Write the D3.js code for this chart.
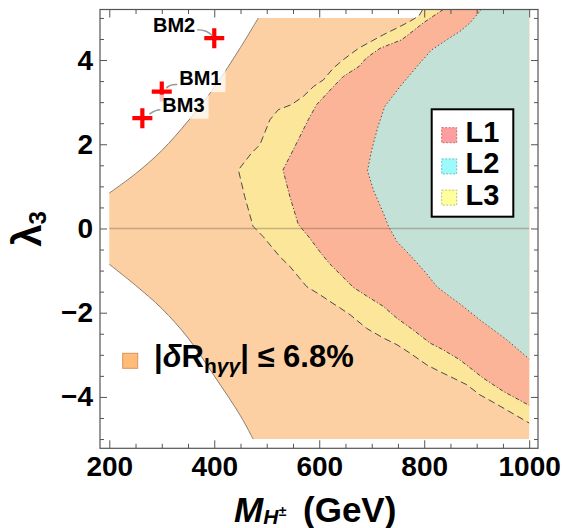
<!DOCTYPE html>
<html><head><meta charset="utf-8">
<script src="https://cdn.jsdelivr.net/npm/d3@7"></script>
<style>
body{margin:0;background:#fff}
svg{display:block}
text{font-family:"Liberation Sans",Arial,Helvetica,sans-serif;font-weight:bold;fill:#000}
</style>
</head><body>
<svg id="chart" width="564" height="528"></svg>
<script>
// ---------------- data ----------------
const xMajorTicks = [200, 400, 600, 800, 1000];
const xMinorTicks = [200,250,300,350,400,450,500,550,600,650,700,750,800,850,900,950,1000];
const yMajorTicks = [-4, -2, 0, 2, 4];
const yMinorTicks = [-5,-4.5,-4,-3.5,-3,-2.5,-2,-1.5,-1,-0.5,0,0.5,1,1.5,2,2.5,3,3.5,4,4.5,5];

// |δR_hγγ| ≤ 6.8% allowed region: left boundaries (M_H±, λ3)
const orangeUpperM = [200, 250, 300, 350, 400, 450, 484];
const orangeUpperL = [0.84, 1.30, 1.85, 2.55, 3.35, 4.30, 5.00];
const orangeLowerM = [200, 250, 300, 350, 400, 450, 474];
const orangeLowerL = [-0.85, -1.35, -1.90, -2.60, -3.50, -4.45, -5.00];
const orangeTop = 5, orangeBottom = -5, massMax = 1000, lambdaTop = 5.2;

// L3 (yellow) region boundary
const l3M = [797,790,770,748,722,700,675,646,627,608,589,570,547,522,506,487,471,446,458,474,493,525,544,576,601,620,640,659,690,722,748,773,805,830,855,881,906,935,1000];
const l3L = [5.2,5.05,4.90,4.76,4.60,4.45,4.28,4.01,3.81,3.53,3.37,3.14,2.94,2.82,2.58,1.99,1.79,1.39,0.76,0.05,-0.19,-0.67,-0.90,-1.38,-1.57,-1.73,-1.89,-2.05,-2.37,-2.60,-2.76,-2.96,-3.24,-3.40,-3.55,-3.71,-3.95,-4.15,-4.62];
// L1 (pink) region boundary
const l1M = [836,798,786,757,716,690,676,646,627,595,579,557,531,544,560,582,601,620,665,690,722,748,779,811,836,868,912,951,1000];
const l1L = [5.2,4.88,4.76,4.48,4.28,4.05,3.85,3.61,3.37,2.94,2.58,2.03,1.39,0.76,0.10,-0.23,-0.55,-0.84,-1.40,-1.60,-1.85,-2.13,-2.41,-2.72,-2.88,-3.12,-3.55,-3.87,-4.20];
// L2 (teal) region boundary
const l2M = [909,887,868,843,814,792,754,725,712,700,692,703,722,732,748,775,805,824,849,868,906,957,1000];
const l2L = [5.2,4.88,4.68,4.48,4.24,3.93,3.37,2.90,2.42,1.87,1.37,0.92,0.37,0.05,-0.31,-0.66,-1.08,-1.38,-1.62,-1.79,-2.17,-2.64,-3.10];

// benchmark points
const bmNames  = ["BM1", "BM2", "BM3"];
const bmMass   = [300, 400, 263];
const bmLambda = [3.25, 4.52, 2.62];

const legendNames = ["L1", "L2", "L3"];

// ---------------- layout / style ----------------
const svg = d3.select("#chart");
const x = d3.scaleLinear().domain([182.3, 1016.8]).range([100, 538]);
const y = d3.scaleLinear().domain([-5.22, 5.2]).range([448.3, 9.5]);

const col = {
  orange: "#fdd0a3", l3: "#fce699", l1: "#fbb497", l2: "#c3e1d6",
  sw1: "#ff9e9e", sw2: "#9cfafa", sw3: "#ffff9c", swO: "#ffbb78"
};

svg.append("clipPath").attr("id","clip").append("rect")
  .attr("x", x(182.3)).attr("y", y(5.2)).attr("width", x(1016.8)-x(182.3)).attr("height", y(-5.22)-y(5.2));
const plot = svg.append("g").attr("clip-path","url(#clip)");

const smooth = d3.line().x(d => x(d[0])).y(d => y(d[1])).curve(d3.curveCatmullRom);
const straight = d3.line().x(d => x(d[0])).y(d => y(d[1]));

const upperPts = orangeUpperM.map((m,i) => [m, orangeUpperL[i]]);
const lowerPts = orangeLowerM.map((m,i) => [m, orangeLowerL[i]]);
const orangePath = smooth(lowerPts)
  + `L${x(massMax)},${y(orangeBottom)}L${x(massMax)},${y(orangeTop)}`
  + "L" + smooth(upperPts.slice().reverse()).slice(1) + "Z";
plot.append("path").attr("d", orangePath).attr("fill", col.orange);
plot.append("path").attr("d", smooth(upperPts)).attr("fill","none").attr("stroke","#8b7d70").attr("stroke-width",1);
plot.append("path").attr("d", smooth(lowerPts)).attr("fill","none").attr("stroke","#8b7d70").attr("stroke-width",1);

const regions = [
  {M: l3M, L: l3L, fill: col.l3, dash: "7,4"},
  {M: l1M, L: l1L, fill: col.l1, dash: "4,2,1.2,2"},
  {M: l2M, L: l2L, fill: col.l2, dash: "1.3,2.4"}
];
regions.forEach(r => {
  const b = r.M.map((m,i) => [m, r.L[i]]);
  const poly = b.concat([[massMax, lambdaTop]]);
  plot.append("path").attr("d", straight(poly) + "Z").attr("fill", r.fill);
});
regions.forEach(r => {
  const b = r.M.map((m,i) => [m, r.L[i]]);
  plot.append("path").attr("d", straight(b)).attr("fill","none")
    .attr("stroke","#4a4a4a").attr("stroke-width",1).attr("stroke-dasharray", r.dash);
});

// zero line
plot.append("line").attr("x1", x(200)).attr("x2", x(1000)).attr("y1", y(0)).attr("y2", y(0))
  .attr("stroke","#7a6050").attr("stroke-opacity",0.4).attr("stroke-width",1.6);

// ---------------- frame & axes ----------------
const fx0 = x(182.3), fx1 = x(1016.8), fy0 = y(5.2), fy1 = y(-5.22);
const axes = svg.append("g");
function minorOnly(arr, major){ return arr.filter(v => !major.includes(v)); }
function addAxis(gen, transform, major, minor, majorLen, minorLen, labels, pad){
  const gMaj = axes.append("g").attr("transform", transform)
    .call(gen.tickValues(major).tickSizeInner(-majorLen).tickSizeOuter(0).tickPadding(pad)
      .tickFormat(labels ? d3.format("") : () => ""));
  const gMin = axes.append("g").attr("transform", transform)
    .call(gen.tickValues(minorOnly(minor, major)).tickSizeInner(-minorLen).tickSizeOuter(0).tickFormat(() => ""));
  [gMaj, gMin].forEach(g => { g.select(".domain").remove(); g.selectAll("line").attr("stroke","#555"); });
  gMaj.selectAll("text").attr("font-size", 28).attr("font-family", null)
    .style("font-family",'"Liberation Sans",Arial,sans-serif').attr("font-weight","bold").attr("fill","#000");
}
addAxis(d3.axisBottom(x), `translate(0,${fy1})`, xMajorTicks, xMinorTicks, 8, 4.5, true, 8);
addAxis(d3.axisTop(x), `translate(0,${fy0})`, xMajorTicks, xMinorTicks, 8, 4.5, false, 8);
addAxis(d3.axisLeft(y), `translate(${fx0},0)`, yMajorTicks, yMinorTicks, 7, 4, true, 7);
addAxis(d3.axisRight(y), `translate(${fx1},0)`, yMajorTicks, yMinorTicks, 7, 4, false, 7);
svg.append("rect").attr("x", fx0).attr("y", fy0).attr("width", fx1-fx0).attr("height", fy1-fy0)
  .attr("fill","none").attr("stroke","#555").attr("stroke-width",1.2);

// axis titles
const xt = svg.append("text").attr("x", 234).attr("y", 521.5).attr("font-size", 35);
xt.append("tspan").text("M").attr("font-style","italic");
xt.append("tspan").text("H").attr("font-style","italic").attr("font-size",21).attr("dy",2);
xt.append("tspan").text("±").attr("font-size",14).attr("dy",-8).attr("dx",0.5);
svg.append("text").attr("x", 303).attr("y", 521.5).attr("font-size", 35).text("(GeV)");

const yt = svg.append("text").attr("transform","translate(41,229) rotate(-90)").attr("text-anchor","middle").attr("font-size",40);
yt.append("tspan").text("λ");
yt.append("tspan").text("3").attr("font-size",24).attr("dy",5);

// ---------------- benchmark points ----------------
const bmLayout = {
  BM1: {dx: 17.5, dy: -6.5, anchor: "start", lead: [[-3,-11.5],[-9,-12],[-13,-8]], box: true},
  BM2: {dx: -19, dy: -6.5, anchor: "end", lead: [[3,-13],[12,-13],[17,-7]], box: false},
  BM3: {dx: 20, dy: -6.5, anchor: "start", lead: [[-1,-13],[-7,-13],[-13,-8.5]], box: true}
};
const bmG = svg.append("g");
bmNames.forEach((n,i) => {
  const cx = x(bmMass[i]), cy = y(bmLambda[i]);
  bmG.append("path").attr("d", `M${cx-10},${cy}H${cx+10}M${cx},${cy-10}V${cy+10}`)
    .attr("stroke","#ff0000").attr("stroke-width",4.2);
});
bmNames.forEach((n,i) => {
  const cx = x(bmMass[i]), cy = y(bmLambda[i]);
  const L = bmLayout[n];
  const tx = cx + L.dx, ty = cy + L.dy;
  const t = bmG.append("text").attr("x", tx).attr("y", ty).attr("font-size", 20)
    .attr("text-anchor", L.anchor).text(n);
  const bb = t.node().getBBox();
  if (L.box) {
    bmG.insert("rect", function(){ return t.node(); })
      .attr("x", bb.x-4).attr("y", bb.y+1).attr("width", bb.width+8).attr("height", bb.height+2)
      .attr("fill","#fff").attr("fill-opacity",0.75);
  }
  const p = L.lead.map(d => [tx + d[0], ty + d[1] + 11]);
  const sx = L.anchor === "start" ? bb.x - 2 : bb.x + bb.width + 2;
  bmG.append("path")
    .attr("d", `M${sx},${p[0][1]} Q${p[1][0]},${p[1][1]} ${p[2][0]},${p[2][1]}`)
    .attr("fill","none").attr("stroke","#9a9a9a").attr("stroke-width",1.5);
});

// ---------------- legends ----------------
const lg = svg.append("g");
lg.append("rect").attr("x",431.7).attr("y",109.3).attr("width",81.6).attr("height",107.4)
  .attr("fill","#fff").attr("stroke","#000").attr("stroke-width",2);
const swCols = [col.sw1, col.sw2, col.sw3];
const swStroke = ["#c07070","#70c0c0","#c0c070"];
legendNames.forEach((n,i) => {
  const yy = 127.7 + i*31.2;
  lg.append("rect").attr("x",441.7).attr("y",yy).attr("width",15).attr("height",15)
    .attr("fill", swCols[i]).attr("stroke", swStroke[i]).attr("stroke-width",1).attr("stroke-dasharray","2,1.5");
  lg.append("text").attr("x",465.5).attr("y",yy+14.5).attr("font-size",29).text(n);
});

const lo = svg.append("g");
lo.append("rect").attr("x",122.7).attr("y",353.3).attr("width",15).attr("height",15)
  .attr("fill", col.swO).attr("stroke","#d8955a").attr("stroke-width",1);
const lt = lo.append("text").attr("x",154).attr("y",366.5).attr("font-size",31);
lt.append("tspan").text("|");
lt.append("tspan").text("δ").attr("font-style","italic");
lt.append("tspan").text("R");
lt.append("tspan").text("h").attr("font-size",21).attr("dy",6);
lt.append("tspan").text("γγ").attr("font-size",21).attr("font-style","italic");
lt.append("tspan").text("| ≤ 6.8%").attr("dy",-6);
</script>
</body></html>
